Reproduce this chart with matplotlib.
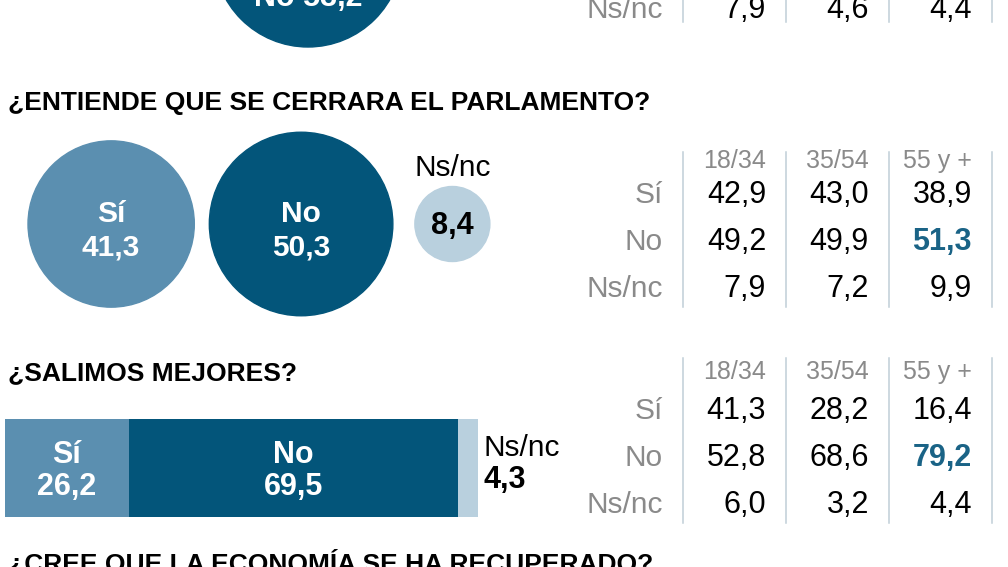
import matplotlib.pyplot as plt
from matplotlib.patches import Circle
import numpy as np

plt.rcParams['font.family'] = ['Liberation Sans', 'DejaVu Sans']

# data
age_groups = ['18/34', '35/54', '55 y +']
row_labels = ['Sí', 'No', 'Ns/nc']

# previous question (cut off at the top)
prev_no_total = 53.2
prev_nsnc_by_age = [7.9, 4.6, 4.4]

# ¿Entiende que se cerrara el Parlamento?
parl_values = [41.3, 50.3, 8.4]
parl_si = [42.9, 43.0, 38.9]
parl_no = [49.2, 49.9, 51.3]
parl_ns = [7.9, 7.2, 9.9]

# ¿Salimos mejores?
mej_values = [26.2, 69.5, 4.3]
mej_si = [41.3, 28.2, 16.4]
mej_no = [52.8, 68.6, 79.2]
mej_ns = [6.0, 3.2, 4.4]

# colours
c_si = '#5b8fb0'
c_no = '#03557a'
c_ns = '#b9d0de'
c_hi = '#1a6386'
c_gray = '#8a8a8a'
c_line = '#c0ced7'


def fmt(v):
    return f'{v:.1f}'.replace('.', ',')


fig = plt.figure(figsize=(10.08, 5.67), dpi=100)
ax = fig.add_axes([0, 0, 1, 1])
ax.set_xlim(0, 1008)
ax.set_ylim(567, 0)
ax.axis('off')

k = 12.94  # radius = k * sqrt(value)
col_right = [766, 869, 972]
col_lines = [683, 786, 889, 992]
label_right = 663


def age_table(y_head, rows, y_rows, y_top, y_bot):
    for x in col_lines:
        ax.plot([x, x], [y_top, y_bot], color=c_line, lw=1.1)
    if y_head is not None:
        for x, g in zip(col_right, age_groups):
            ax.text(x, y_head, g, ha='right', va='center', fontsize=18, color=c_gray)
    for lab, vals, y in zip([r[0] for r in rows], [r[1] for r in rows], y_rows):
        ax.text(label_right, y, lab, ha='right', va='center', fontsize=21.5, color=c_gray)
        for x, v in zip(col_right, vals):
            hi = lab == 'No' and v == max(vals)
            ax.text(x, y, fmt(v), ha='right', va='center', fontsize=22,
                    color=c_hi if hi else 'black', fontweight='bold' if hi else 'normal')


# top (cut) section
r_top = k * np.sqrt(prev_no_total)
ax.add_patch(Circle((308, 47 - r_top), r_top, color=c_no))
ax.text(308, 6, 'No ' + fmt(prev_no_total), ha='center', va='baseline',
        fontsize=22, fontweight='bold', color='white')
age_table(None, [('Ns/nc', prev_nsnc_by_age)], [10], -5, 22)

# Parlamento
ax.text(8, 103, '¿ENTIENDE QUE SE CERRARA EL PARLAMENTO?', ha='left', va='center',
        fontsize=19, fontweight='bold', color='black')
radii = [k * np.sqrt(v) for v in parl_values]
gaps = [15, 22]
cx = [28 + radii[0]]
cx.append(cx[0] + radii[0] + gaps[0] + radii[1])
cx.append(cx[1] + radii[1] + gaps[1] + radii[2])
cy = 224
for x, r, c in zip(cx, radii, [c_si, c_no, c_ns]):
    ax.add_patch(Circle((x, cy), r, color=c))
for i in range(2):
    ax.text(cx[i], cy - 10, row_labels[i], ha='center', va='center',
            fontsize=21.5, fontweight='bold', color='white')
    ax.text(cx[i], cy + 23, fmt(parl_values[i]), ha='center', va='center',
            fontsize=21.5, fontweight='bold', color='white')
ax.text(cx[2], cy - 56, row_labels[2], ha='center', va='center', fontsize=21.5, color='black')
ax.text(cx[2], cy + 2, fmt(parl_values[2]), ha='center', va='center',
        fontsize=22, fontweight='bold', color='black')
age_table(161, list(zip(row_labels, [parl_si, parl_no, parl_ns])), [195, 242, 289], 152, 307)

# Salimos mejores
ax.text(8, 373, '¿SALIMOS MEJORES?', ha='left', va='center',
        fontsize=19, fontweight='bold', color='black')
scale = 4.73
bar_y, bar_h = 468, 98
left = 5
for i, (v, c) in enumerate(zip(mej_values, [c_si, c_no, c_ns])):
    ax.barh(bar_y, v * scale, left=left, height=bar_h, color=c, linewidth=0)
    if i < 2:
        mid = left + v * scale / 2
        ax.text(mid, bar_y - 13, row_labels[i], ha='center', va='center',
                fontsize=22, fontweight='bold', color='white')
        ax.text(mid, bar_y + 19, fmt(v), ha='center', va='center',
                fontsize=22, fontweight='bold', color='white')
    left += v * scale
ax.text(left + 6, 448, row_labels[2], ha='left', va='center', fontsize=21.5, color='black')
ax.text(left + 6, 480, fmt(mej_values[2]), ha='left', va='center',
        fontsize=22, fontweight='bold', color='black')
age_table(372, list(zip(row_labels, [mej_si, mej_no, mej_ns])), [411, 458, 505], 358, 523)

# next question (cut off at the bottom)
ax.text(8, 563, '¿CREE QUE LA ECONOMÍA SE HA RECUPERADO?', ha='left', va='center',
        fontsize=19, fontweight='bold', color='black')

fig.savefig('out.png', dpi=100)
